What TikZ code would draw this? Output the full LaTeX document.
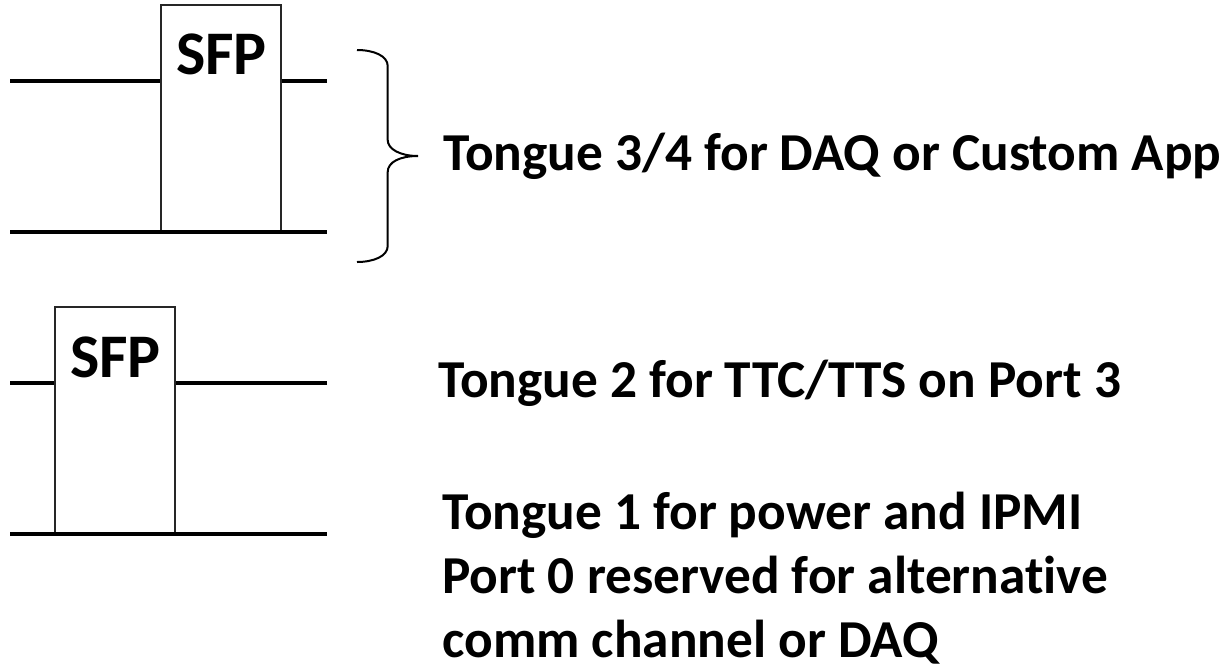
\documentclass[tikz,border=0pt]{standalone}
\usepackage{fontspec}
\setmainfont[Ligatures=NoCommon]{Carlito}
\usetikzlibrary{positioning}

\begin{document}
\begin{tikzpicture}[
    x=0.75pt, y=-0.75pt,
    sfpbox/.style={draw=black!85, line width=1.5pt, minimum width=90pt,
        minimum height=170pt, inner sep=0pt, fill=white},
    sfptxt/.style={font=\fontsize{46.5}{54}\selectfont\bfseries, inner sep=0pt},
    wire/.style={line width=3pt},
    curl/.style={line width=1.5pt},
    tongue/.style={font=\fontsize{40}{48}\selectfont\bfseries, align=left,
        inner sep=0pt, anchor=base west}
]
    \useasboundingbox (0,0) rectangle (1227,665);

    \node[sfpbox] (sfpa) at (221,118.5) {};
    \node[sfpbox] (sfpb) at (115,420.5) {};
    \coordinate (ina) at (10,80.7);
    \coordinate (inb) at (10,231.7);
    \coordinate (outa) at (327,80.7);
    \coordinate (outb) at (327,231.7);
    \coordinate (inc) at (10,382.7);
    \coordinate (ind) at (10,533.7);
    \coordinate (outc) at (327,382.7);
    \coordinate (outd) at (327,533.7);

    \draw[wire] (ina) -- (ina -| sfpa.west);
    \draw[wire] (outa) -- (outa -| sfpa.east);
    \draw[wire] (inb) -- (outb);
    \draw[wire] (inc) -- (inc -| sfpb.west);
    \draw[wire] (outc) -- (outc -| sfpb.east);
    \draw[wire] (ind) -- (outd);

    \node[sfptxt, anchor=base] (sfpta) at (221.5,74.5) {SFP};
    \node[sfptxt, anchor=base] (sfptb) at (115.5,377) {SFP};

    \draw[curl] (357,50) .. controls (374,50) and (387.7,56) .. (387.7,66)
        -- (387.7,140) .. controls (387.7,149) and (400,156) .. (418,156)
        .. controls (400,156) and (387.7,162) .. (387.7,172)
        -- (387.7,246) .. controls (387.7,256) and (374,262) .. (357,262);

    \node[tongue] (daq) at (443,170.5) {Tongue 3/4 for DAQ or Custom App};
    \node[tongue] (ttc) at (438,397) {Tongue 2 for TTC/TTS on Port 3};
    \node[tongue] (pwr) at (442,657.5) {Tongue 1 for power and IPMI\\Port 0 reserved for alternative\\comm channel or DAQ};
\end{tikzpicture}
\end{document}
